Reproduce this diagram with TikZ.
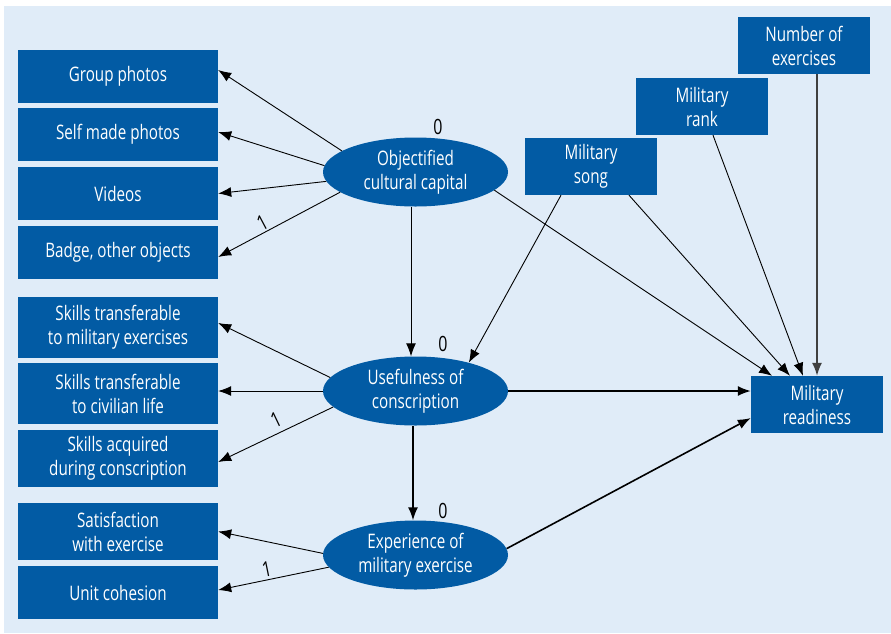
\documentclass[tikz,border=0pt]{standalone}
\usepackage{fontspec}
\setmainfont{Open Sans}[FakeStretch=0.76]
\usetikzlibrary{arrows.meta,shapes.geometric}
\definecolor{boxblue}{RGB}{2,91,164}
\definecolor{bgblue}{RGB}{224,236,248}
\definecolor{linegray}{RGB}{64,64,64}

\begin{document}
\begin{tikzpicture}[
  x=1pt, y=-1pt,
  every node/.style={font=\fontsize{20}{24}\selectfont},
  obsbox/.style={
    rectangle, fill=boxblue, text=white, align=center,
    minimum width=200pt, minimum height=53pt, inner sep=0pt
  },
  sidebox/.style={
    rectangle, fill=boxblue, text=white, align=center,
    minimum width=132pt, minimum height=57pt, inner sep=0pt
  },
  latent/.style={
    ellipse, fill=boxblue, text=white, align=center,
    minimum width=185pt, minimum height=69pt, inner sep=0pt
  },
  loadarrow/.style={
    -{Latex[length=13pt,width=10pt]}, line width=0.9pt, black
  },
  patharrow/.style={
    -{Latex[length=13pt,width=10pt]}, line width=1.6pt, black
  },
  coef/.style={font=\fontsize{21}{24}\selectfont, inner sep=1pt, text=black},
]

% --- Background ---
\useasboundingbox (0,0) rectangle (891,633);
\fill[bgblue] (4,6) rectangle (891,633);

% --- Indicators (left) ---
\node[obsbox] (grp) at (118,76.5) {Group photos};
\node[obsbox] (self) at (118,134.5) {Self made photos};
\node[obsbox] (vid) at (118,193.5) {Videos};
\node[obsbox] (badge) at (118,252.5) {Badge, other objects};

\node[obsbox, minimum height=61pt] (skmil) at (118,327.5) {Skills transferable\\to military exercises};
\node[obsbox, minimum height=61pt] (skciv) at (118,393.5) {Skills transferable\\to civilian life};
\node[obsbox, minimum height=57pt] (skacq) at (118,458.5) {Skills acquired\\during conscription};

\node[obsbox, minimum height=57pt] (sat) at (118,531.5) {Satisfaction\\with exercise};
\node[obsbox] (unit) at (118,592.5) {Unit cohesion};

% --- Latent variables ---
\node[latent] (obj) at (415.5,172) {Objectified\\cultural capital};
\node[latent] (use) at (415.5,391) {Usefulness of\\conscription};
\node[latent] (exp) at (415.5,555) {Experience of\\military exercise};

% --- Predictors and outcome (right) ---
\node[sidebox] (song) at (591,166.5) {Military\\song};
\node[sidebox] (rank) at (702,106.5) {Military\\rank};
\node[sidebox] (num) at (804,45.5) {Number of\\exercises};
\node[sidebox] (ready) at (817,404.5) {Military\\readiness};

% --- Fixed values ---
\node[coef] (objzero) at (438,127) {0};
\node[coef] (usezero) at (443,344) {0};
\node[coef] (expzero) at (443,511) {0};

% --- Loadings ---
\draw[loadarrow] (obj.164) -- ([yshift=6.5pt]grp.east);
\draw[loadarrow] (obj.176) -- ([yshift=2.5pt]self.east);
\draw[loadarrow] (obj.186) -- (vid.east);
\draw[loadarrow] (obj.195) -- node[coef, pos=0.6, sloped, above=1pt] {1} ([yshift=-4.5pt]badge.east);

\draw[loadarrow] (use.171) -- ([yshift=4.5pt]skmil.east);
\draw[loadarrow] (use.west) -- (use.west -| skciv.east);
\draw[loadarrow] (use.191) -- node[coef, pos=0.45, sloped, above=4pt] {1} ([yshift=-3.5pt]skacq.east);

\draw[loadarrow] (exp.179) -- (sat.east);
\draw[loadarrow] (exp.188) -- node[coef, pos=0.54, sloped, above=2pt] {1} ([yshift=2.5pt]unit.east);

% --- Structural paths ---
\draw[loadarrow] ([xshift=-4.5pt]obj.south) -- ([xshift=-4.5pt]use.north);
\draw[patharrow] ([xshift=-2.5pt]use.south) -- ([xshift=-2.5pt]exp.north);
\draw[patharrow] (use.east) -- (use.east -| ready.west);
\draw[patharrow] (exp.4) -- ([yshift=-13.5pt]ready.west);
\draw[loadarrow] (obj.347) -- ([xshift=-45pt]ready.north);

\draw[loadarrow] ([xshift=-30pt]song.south) -- (use.28);
\draw[loadarrow] ([xshift=38pt]song.south) -- ([xshift=-27pt]ready.north);
\draw[loadarrow] ([xshift=11pt]rank.south) -- ([xshift=-14pt]ready.north);
\draw[patharrow, linegray] (num.south -| ready.north) -- (ready.north);

\end{tikzpicture}
\end{document}
